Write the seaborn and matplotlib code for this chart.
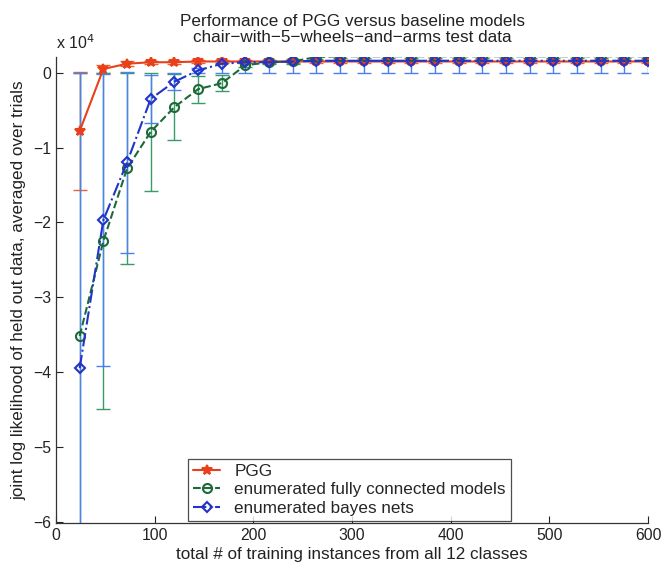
import numpy as np
import pandas as pd
import matplotlib
matplotlib.use("Agg")
import matplotlib.pyplot as plt
import seaborn as sns

# ---- data ----
n_train = [24, 48, 72, 96, 120, 144, 168, 192, 216, 240, 264, 288, 312,
           336, 360, 384, 408, 432, 456, 480, 504, 528, 552, 576, 600]

pgg_mean = [-7800, 500, 1200, 1400, 1400, 1500, 1500, 1500, 1500, 1500,
            1500, 1500, 1500, 1500, 1500, 1500, 1500, 1500, 1500, 1500,
            1500, 1500, 1500, 1500, 1500]
pgg_err = [7900, 500, 300, 200, 200, 200, 200, 200, 200, 200,
           200, 200, 200, 200, 200, 200, 200, 200, 200, 200,
           200, 200, 200, 200, 200]

full_mean = [-35200, -22500, -12800, -7900, -4600, -2200, -1400, 1000, 1400, 1500,
             2100, 2200, 2200, 2200, 2200, 2200, 2200, 2200, 2200, 2200,
             2200, 2200, 2200, 2200, 2200]
full_err = [35200, 22500, 12800, 7900, 4400, 1800, 1100, 300, 300, 300,
            300, 300, 300, 300, 300, 300, 300, 300, 300, 300,
            300, 300, 300, 300, 300]

bayes_mean = [-39500, -19700, -12000, -3500, -1200, 300, 1200, 1400, 1400, 1500,
              1600, 1600, 1600, 1600, 1600, 1600, 1600, 1600, 1600, 1600,
              1600, 1600, 1600, 1600, 1600]
bayes_err = [39500, 19500, 12100, 3200, 1100, 300, 1300, 1500, 1500, 1600,
             1650, 1650, 1650, 1650, 1650, 1650, 1650, 1650, 1650, 1650,
             1650, 1650, 1650, 1650, 1650]

labels = ["PGG", "enumerated fully connected models", "enumerated bayes nets"]
ytick_vals = [0, -10000, -20000, -30000, -40000, -50000, -60000]
ytick_labels = ["0", "\u22121", "\u22122", "\u22123", "\u22124", "\u22125", "\u22126"]
xtick_vals = [0, 100, 200, 300, 400, 500, 600]

# ---- style ----
sns.set_theme(style="ticks")
plt.rcParams["font.family"] = ["Liberation Sans", "DejaVu Sans"]
FS = 12.3

fig = plt.figure(figsize=(6.62, 5.78), dpi=100)
L, R, T, B = 56, 648, 57, 523
ax = fig.add_axes([L / 662, (578 - B) / 578, (R - L) / 662, (B - T) / 578])

series = [
    (pgg_mean, pgg_err, "#e8401a", "#f06030", "*", "-", 7),
    (full_mean, full_err, "#1c6a38", "#3a9a68", "o", "--", 6.5),
    (bayes_mean, bayes_err, "#2233c8", "#4a80f0", "D", "-.", 5),
]

for (m, e, lc, ec, mk, ls, ms) in series:
    ax.errorbar(n_train, m, yerr=e, fmt="none", ecolor=ec, elinewidth=1.0,
                capsize=5, capthick=1.0, zorder=2, clip_on=True)

for (m, e, lc, ec, mk, ls, ms), lab in zip(series, labels):
    df = pd.DataFrame({"x": n_train, "y": m})
    mfc = lc if mk == "*" else "none"
    sns.lineplot(data=df, x="x", y="y", ax=ax, color=lc, marker=mk,
                 linestyle=ls, linewidth=1.5, markersize=ms,
                 markerfacecolor=mfc, markeredgecolor=lc, markeredgewidth=1.5,
                 label=lab, zorder=3)

ax.set_xlim(0, 600)
ax.set_ylim(-60200, 2100)
ax.set_xticks(xtick_vals)
ax.set_xticklabels([str(v) for v in xtick_vals])
ax.set_yticks(ytick_vals)
ax.set_yticklabels(ytick_labels)
ax.tick_params(direction="in", length=5, width=0.8, labelsize=11.3, colors="#222222")
for s in ["top", "right"]:
    ax.spines[s].set_visible(False)
for s in ["left", "bottom"]:
    ax.spines[s].set_color("#333333")
    ax.spines[s].set_linewidth(0.9)

ax.set_xlabel("total # of training instances from all 12 classes", fontsize=FS,
              color="#222222", labelpad=3)
ax.set_ylabel("joint log likelihood of held out data, averaged over trials",
              fontsize=FS, color="#222222", labelpad=5)
ax.set_title("Performance of PGG versus baseline models\n"
             "chair\u2212with\u22125\u2212wheels\u2212and\u2212arms test data",
             fontsize=FS, color="#222222", pad=11, linespacing=1.1)
ax.text(0.0, 1.01, "x 10$^{4}$", transform=ax.transAxes, fontsize=11.5,
        color="#222222", ha="left", va="bottom")

leg = ax.legend(loc="lower left", bbox_to_anchor=((188 - L) / (R - L), 2 / (B - T)),
                borderaxespad=0, fontsize=FS, frameon=True, fancybox=False,
                handlelength=1.6, borderpad=0.3, labelspacing=0.2, handletextpad=0.8)
leg.get_frame().set_edgecolor("#222222")
leg.get_frame().set_linewidth(0.9)

fig.savefig("out.png", dpi=100)
